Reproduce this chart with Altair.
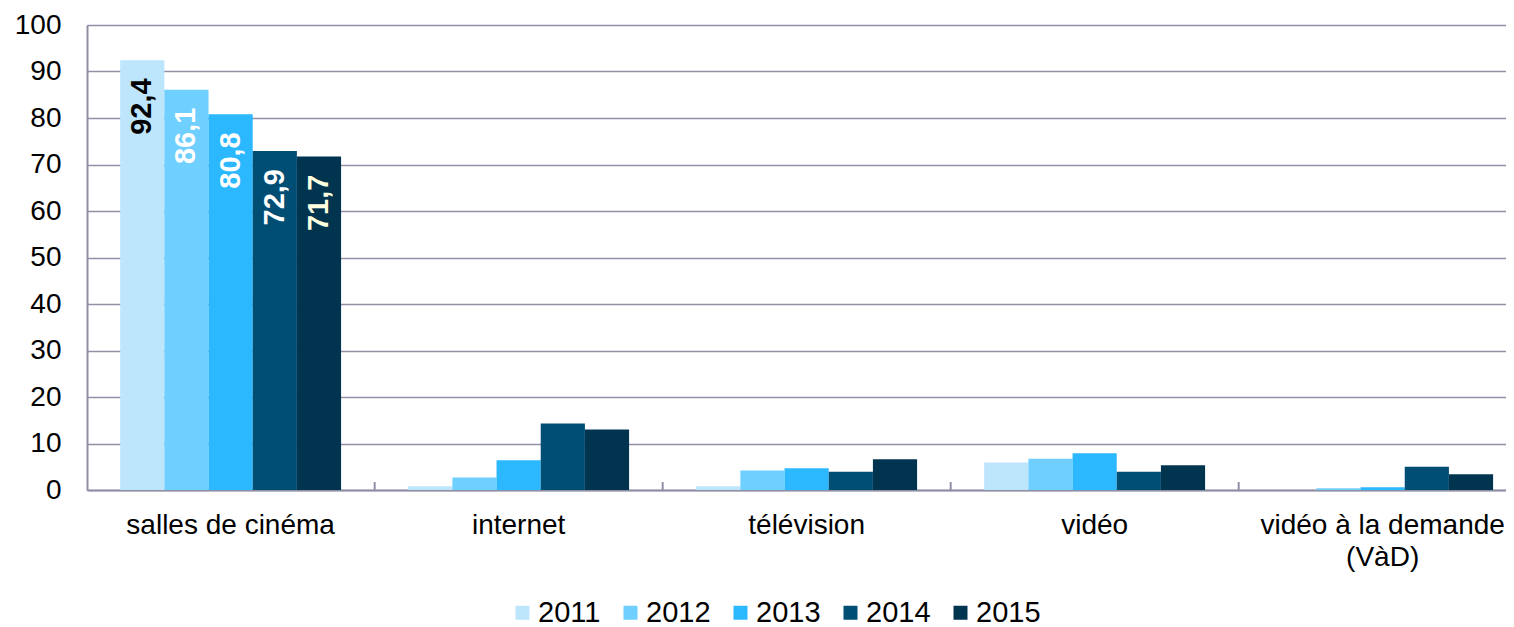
import altair as alt
import pandas as pd

# ---- data ----
categories = ["salles de cinéma", "internet", "télévision", "vidéo", "vidéo à la demande\n(VàD)"]
years = ["2011", "2012", "2013", "2014", "2015"]
v2011 = [92.4, 0.8, 0.8, 5.9, None]
v2012 = [86.1, 2.7, 4.2, 6.7, 0.4]
v2013 = [80.8, 6.4, 4.7, 7.9, 0.6]
v2014 = [72.9, 14.3, 3.9, 3.9, 5.0]
v2015 = [71.7, 13.0, 6.6, 5.3, 3.4]
cinema_labels = ["92,4", "86,1", "80,8", "72,9", "71,7"]
y_ticks = [0, 10, 20, 30, 40, 50, 60, 70, 80, 90, 100]

# ---- styles ----
bar_colors = ["#BDE6FD", "#6FCFFF", "#2BB8FF", "#004E74", "#00344F"]
label_colors = ["#000000", "#FFFFFF", "#FFFFFF", "#FFFFFF", "#FFFFE0"]
GRID = "#8F8FA6"
FONT = "Liberation Sans"

series = [v2011, v2012, v2013, v2014, v2015]
rows = []
for yi, (yr, vals) in enumerate(zip(years, series)):
    for ci, (cat, v) in enumerate(zip(categories, vals)):
        rows.append({
            "cat": cat,
            "year": yr,
            "value": v,
            "label": cinema_labels[yi] if ci == 0 else "",
            "lcolor": label_colors[yi],
        })
df = pd.DataFrame(rows)
bounds = pd.DataFrame({"cat": categories[1:]})

x_enc = alt.X(
    "cat:N",
    sort=categories,
    title=None,
    scale=alt.Scale(paddingInner=0.233, paddingOuter=0.08, align=0.72),
    axis=alt.Axis(
        labelAngle=0,
        labelExpr="split(datum.value, '\\n')",
        labelLimit=0,
        ticks=False,
        tickSize=0,
        labelPadding=21,
        labelFontSize=28,
        labelLineHeight=32,
        labelFont=FONT,
        labelColor="black",
        domainColor=GRID,
        domainWidth=2,
        grid=False,
    ),
)
xoff = alt.XOffset("year:N", sort=years, scale=alt.Scale(paddingInner=0, paddingOuter=0))
y_enc = alt.Y(
    "value:Q",
    title=None,
    scale=alt.Scale(domain=[0, 100], nice=False),
    axis=alt.Axis(
        values=y_ticks,
        ticks=False,
        tickSize=0,
        labelPadding=26,
        labelFontSize=28,
        labelFont=FONT,
        labelColor="black",
        domainColor=GRID,
        domainWidth=2,
        gridColor=GRID,
        gridWidth=1.5,
    ),
)

bars = alt.Chart(df).mark_bar().encode(
    x=x_enc,
    xOffset=xoff,
    y=y_enc,
    color=alt.Color(
        "year:N",
        scale=alt.Scale(domain=years, range=bar_colors),
        legend=alt.Legend(
            title=None,
            orient="none",
            legendX=421,
            legendY=573,
            direction="horizontal",
            symbolType="square",
            symbolSize=196,
            symbolStrokeWidth=0,
            labelFontSize=29,
            labelFont=FONT,
            labelColor="black",
            labelOffset=1,
            columnPadding=15,
        ),
    ),
)

labels = alt.Chart(df).transform_filter("datum.label != ''").mark_text(
    angle=270, align="right", baseline="middle", dx=-18,
    fontSize=29, fontWeight="bold", font=FONT,
).encode(
    x=alt.X("cat:N", sort=categories),
    xOffset=xoff,
    y=alt.Y("value:Q"),
    text="label:N",
    color=alt.Color("lcolor:N", scale=None),
)

ticks = alt.Chart(bounds).mark_rule(
    color=GRID, strokeWidth=2, xOffset=-33.5, x2Offset=-33.5, y2Offset=-8
).encode(
    x=alt.X("cat:N", sort=categories, bandPosition=0),
    y=alt.datum(0),
    y2=alt.datum(0),
)

chart = alt.layer(bars, labels, ticks).properties(
    width=1419,
    height=465,
    autosize=alt.AutoSizeParams(type="none"),
    padding={"left": 79, "top": 17, "right": 0, "bottom": 137},
).configure_view(stroke=None).configure(background="white")

chart.save("out.html", embed_options={"renderer": "svg", "actions": False})
